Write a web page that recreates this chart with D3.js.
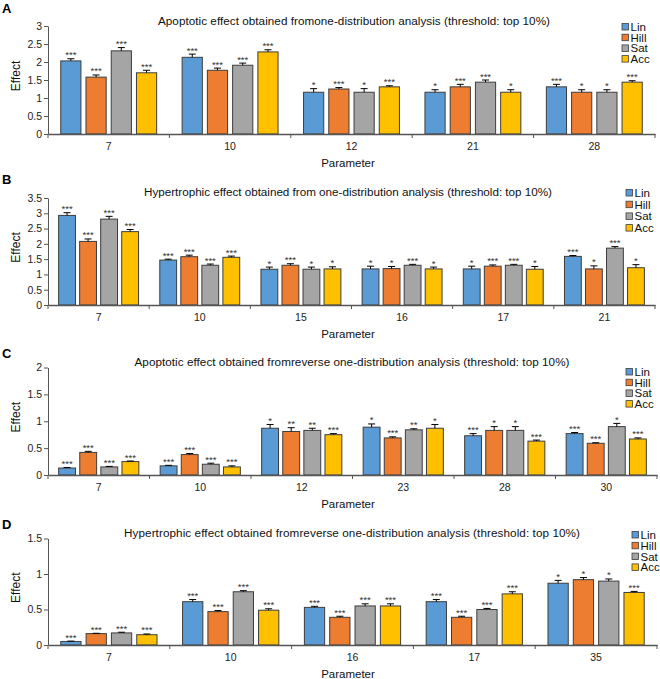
<!DOCTYPE html>
<html><head><meta charset="utf-8">
<script src="https://cdn.jsdelivr.net/npm/d3@7"></script>
<style>
body{margin:0;background:#fff;}
svg text{font-family:"Liberation Sans",Arial,sans-serif;}
</style></head>
<body><svg id="c" width="660" height="679"></svg>
<script>
const seriesNames = ["Lin","Hill","Sat","Acc"];
const seriesColors = ["#5B9BD5","#ED7D31","#A5A5A5","#FFC000"];

// Panel A
const catsA = ["7","10","12","21","28"];
const valsA = [[2.03,2.13,1.16,1.16,1.31],[1.58,1.77,1.25,1.31,1.16],[2.31,1.91,1.16,1.44,1.16],[1.70,2.28,1.31,1.16,1.44]];
const errA  = [[0.06,0.09,0.10,0.07,0.07],[0.06,0.06,0.04,0.07,0.07],[0.09,0.06,0.10,0.06,0.07],[0.07,0.06,0.03,0.07,0.04]];
const sigA  = [["***","***","*","*","***"],["***","***","***","***","*"],["***","***","*","***","*"],["***","***","***","*","***"]];
const ticksA = [0,0.5,1,1.5,2,2.5,3];

// Panel B
const catsB = ["7","10","15","16","17","21"];
const valsB = [[2.93,1.47,1.17,1.18,1.18,1.59],[2.08,1.58,1.30,1.19,1.27,1.18],[2.81,1.30,1.17,1.30,1.30,1.86],[2.40,1.56,1.18,1.18,1.17,1.22]];
const errB  = [[0.09,0.03,0.07,0.09,0.09,0.03],[0.08,0.05,0.05,0.07,0.04,0.10],[0.09,0.04,0.07,0.03,0.03,0.05],[0.07,0.04,0.07,0.06,0.09,0.10]];
const sigB  = [["***","***","*","*","*","***"],["***","***","***","*","***","*"],["***","***","*","***","***","***"],["***","***","*","*","*","*"]];
const ticksB = [0,0.5,1,1.5,2,2.5,3,3.5];

// Panel C
const catsC = ["7","10","12","23","28","30"];
const valsC = [[0.13,0.17,0.87,0.89,0.73,0.77],[0.42,0.38,0.81,0.69,0.83,0.59],[0.15,0.20,0.83,0.84,0.83,0.90],[0.25,0.15,0.75,0.87,0.63,0.67]];
const errC  = [[0.01,0.01,0.07,0.06,0.04,0.02],[0.02,0.02,0.07,0.02,0.07,0.01],[0.01,0.02,0.04,0.02,0.07,0.06],[0.01,0.02,0.02,0.07,0.02,0.02]];
const sigC  = [["***","***","*","*","***","***"],["***","***","**","***","*","***"],["***","***","**","**","*","*"],["***","***","***","*","***","***"]];
const ticksC = [0,0.5,1,1.5,2];

// Panel D
const catsD = ["7","10","16","17","35"];
const valsD = [[0.05,0.61,0.53,0.61,0.87],[0.16,0.47,0.39,0.39,0.92],[0.17,0.75,0.55,0.50,0.90],[0.145,0.49,0.55,0.72,0.74]];
const errD  = [[0.005,0.03,0.015,0.03,0.04],[0.005,0.015,0.015,0.015,0.03],[0.01,0.015,0.03,0.015,0.03],[0.01,0.02,0.03,0.03,0.015]];
const sigD  = [["***","***","***","***","*"],["***","***","***","***","*"],["***","***","***","***","*"],["***","***","***","***","***"]];
const ticksD = [0,0.5,1,1.5];

const titles = [
  "Apoptotic effect obtained fromone-distribution analysis (threshold: top 10%)",
  "Hypertrophic effect obtained from one-distribution analysis (threshold: top 10%)",
  "Apoptotic effect obtained fromreverse one-distribution analysis (threshold: top 10%)",
  "Hypertrophic effect obtained fromreverse one-distribution analysis (threshold: top 10%)"
];
const panelLetters = ["A","B","C","D"];

const layout = [
  {y0:134, yTop:26, right:655, labelY:13, titleX:354, titleW:392, titleY:25, legX:622, legY:27, legDy:10.7},
  {y0:305, yTop:198, right:655, labelY:184, titleX:348, titleW:408, titleY:196, legX:626, legY:193, legDy:11.7},
  {y0:475, yTop:367.5, right:657, labelY:358, titleX:352, titleW:435, titleY:366, legX:626, legY:372, legDy:10.7},
  {y0:645, yTop:538.5, right:657, labelY:529, titleX:352, titleW:456, titleY:537, legX:632, legY:535, legDy:10.8}
];
const panels = [
  {cats:catsA, vals:valsA, err:errA, sig:sigA, ticks:ticksA},
  {cats:catsB, vals:valsB, err:errB, sig:sigB, ticks:ticksB},
  {cats:catsC, vals:valsC, err:errC, sig:sigC, ticks:ticksC},
  {cats:catsD, vals:valsD, err:errD, sig:sigD, ticks:ticksD}
];

const svg = d3.select("#c");
const left = 48;

panels.forEach((p, i) => {
  const L = layout[i];
  const g = svg.append("g");
  const x0 = d3.scaleBand().domain(p.cats).range([left, L.right]);
  const bw = x0.bandwidth();
  const x1 = d3.scaleBand().domain(seriesNames).range([bw*0.105, bw*0.895]).paddingInner(0.2);
  const y = d3.scaleLinear().domain([0, d3.max(p.ticks)]).range([L.y0, L.yTop]);

  // y axis
  const ya = g.append("g").attr("transform", `translate(${left},0)`)
    .call(d3.axisLeft(y).tickValues(p.ticks).tickSize(4).tickSizeOuter(0).tickPadding(2).tickFormat(d => String(d)));
  ya.selectAll("text").attr("font-size", 10.5).attr("fill", "#222");
  ya.selectAll("line,path").attr("stroke", "#555");

  // bars
  seriesNames.forEach((s, si) => {
    const grp = g.append("g");
    p.cats.forEach((c, ci) => {
      const v = p.vals[si][ci], e = p.err[si][ci];
      const bx = x0(c) + x1(s), w = x1.bandwidth();
      grp.append("rect").attr("x", bx).attr("y", y(v)).attr("width", w).attr("height", y(0) - y(v))
        .attr("fill", seriesColors[si]).attr("stroke", "#3d3d3d").attr("stroke-width", 1);
      const cx = bx + w/2;
      grp.append("line").attr("x1", cx).attr("x2", cx).attr("y1", y(v)).attr("y2", y(v+e)).attr("stroke", "#000").attr("stroke-width", 1);
      grp.append("line").attr("x1", cx-3.5).attr("x2", cx+3.5).attr("y1", y(v+e)).attr("y2", y(v+e)).attr("stroke", "#000").attr("stroke-width", 1);
      grp.append("text").attr("x", cx).attr("y", y(v+e) - 0.5).attr("text-anchor", "middle")
        .attr("font-size", 9.5).attr("fill", "#333").text(p.sig[si][ci]);
    });
  });

  // x axis
  const xa = g.append("g").attr("transform", `translate(0,${L.y0})`)
    .call(d3.axisBottom(x0).tickSize(0).tickSizeOuter(0).tickPadding(9));
  xa.selectAll("text").attr("font-size", 10.5).attr("fill", "#222");
  xa.select(".domain").attr("stroke", "#555").attr("stroke-width", 1.3);
  const bounds = p.cats.map(c => x0(c)).concat([L.right]);
  g.append("g").selectAll("line").data(bounds).join("line")
    .attr("x1", d => d).attr("x2", d => d).attr("y1", L.y0).attr("y2", L.y0 + 4)
    .attr("stroke", "#555");

  // labels
  g.append("text").attr("x", 2).attr("y", L.labelY).attr("font-size", 13).attr("font-weight", "bold").text(panelLetters[i]);
  g.append("text").attr("x", L.titleX).attr("y", L.titleY).attr("text-anchor", "middle").attr("font-size", 11.7)
    .attr("textLength", L.titleW).attr("lengthAdjust", "spacing").attr("fill", "#111").text(titles[i]);
  g.append("text").attr("transform", `translate(20,${(L.y0 + L.yTop)/2 - 4}) rotate(-90)`).attr("text-anchor", "middle")
    .attr("font-size", 12).attr("fill", "#111").text("Effect");
  g.append("text").attr("x", 348).attr("y", L.y0 + 33).attr("text-anchor", "middle").attr("font-size", 11.5).attr("fill", "#111").text("Parameter");

  // legend
  const lg = g.append("g");
  seriesNames.forEach((s, si) => {
    const cy = L.legY + si * L.legDy;
    lg.append("rect").attr("x", L.legX).attr("y", cy - 3.5).attr("width", 6.5).attr("height", 6.5)
      .attr("fill", seriesColors[si]).attr("stroke", "#3d3d3d").attr("stroke-width", 0.8);
    lg.append("text").attr("x", L.legX + 8.5).attr("y", cy + 4).attr("font-size", 11.5).attr("fill", "#111").text(s);
  });
});
</script></body></html>
